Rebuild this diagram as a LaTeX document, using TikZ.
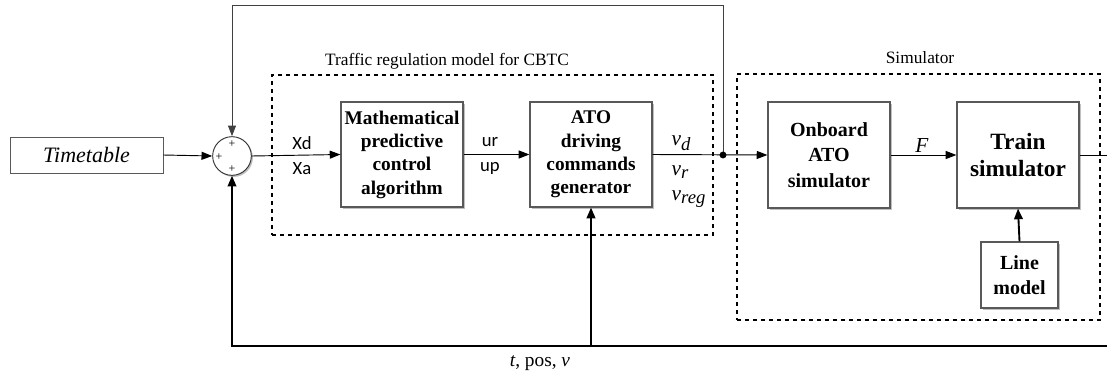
\documentclass[tikz,border=0pt]{standalone}
\usepackage{fontspec}
\setmainfont{Liberation Serif}
\newfontfamily\calfont{Carlito}
\usetikzlibrary{arrows.meta,shadows}
\begin{document}
\begin{tikzpicture}[x=0.75pt,y=-0.75pt,
  shd/.style={drop shadow={shadow xshift=1.2pt,shadow yshift=-1.2pt,opacity=0.25,fill=black}},
  blk/.style={draw=black!65,line width=0.9pt,fill=white,shd,align=center,font=\fontsize{14.5}{17.5}\selectfont\bfseries,inner sep=0pt},
  grp/.style={draw,dashed,line width=0.8pt,inner sep=0pt},
  sig/.style={line width=0.7pt,-{Triangle[length=8pt,width=6pt]}},
  thk/.style={line width=1.4pt,-{Triangle[length=8pt,width=6.5pt]}},
  lbl/.style={font=\fontsize{13}{15}\selectfont},
  cal/.style={font=\calfont\fontsize{14}{16}\selectfont},
  mth/.style={font=\fontsize{16}{18}\selectfont\itshape}]
\useasboundingbox (0,0) rectangle (1107,375);
% groups
\node[grp,minimum width=330.75pt,minimum height=120pt] (trm) at (492.5,155) {};
\node[grp,minimum width=272.25pt,minimum height=184.5pt] (sim) at (918.5,197) {};
\node[lbl,anchor=base] (trmt) at (447,65) {Traffic regulation model for CBTC};
\node[lbl,anchor=base] (simt) at (920,63) {Simulator};
% blocks
\node[draw=black!65,line width=0.7pt,minimum width=114.75pt,minimum height=27pt,inner sep=0pt,font=\fontsize{16.5}{18}\selectfont\itshape] (tt) at (86.5,155) {Timetable};
\node[draw=black!80,circle,fill=white,shd,line width=0.7pt,minimum size=29pt,inner sep=0pt] (sum) at (232,156) {};
\node[font=\fontsize{9}{9}\selectfont] (p1) at (232,144) {+};
\node[font=\fontsize{9}{9}\selectfont] (p2) at (219,157) {+};
\node[font=\fontsize{9}{9}\selectfont] (p3) at (232,169) {+};
\node[blk,minimum width=91.5pt,minimum height=78.75pt] (mpc) at (402,154.5) {Mathematical\\predictive\\control\\algorithm};
\node[blk,minimum width=91.5pt,minimum height=78.75pt] (ato) at (591,154.5) {ATO\\driving\\commands\\generator};
\node[blk,minimum width=91.5pt,minimum height=79.5pt,font=\fontsize{15}{19}\selectfont\bfseries] (obd) at (829,155) {Onboard\\ATO\\simulator};
\node[blk,minimum width=91.5pt,minimum height=79.5pt,font=\fontsize{17.5}{20.5}\selectfont\bfseries] (trn) at (1018,155) {Train\\simulator};
\node[blk,minimum width=57.75pt,minimum height=49.5pt,font=\fontsize{15}{19}\selectfont\bfseries] (lin) at (1019.5,275) {Line\\model};
% coordinates
\coordinate (jn) at (723,155);
\coordinate (topL) at (232,5);
\coordinate (topR) at (723,5);
\coordinate (outR) at (1107,155);
\coordinate (botR) at (1107,346);
\coordinate (botL) at (232,346);
\coordinate (botA) at (591,346);
% connectors
\draw[sig] (tt.east) -- (sum.west);
\draw[sig] (sum.east) -- (mpc.west);
\draw[sig] (mpc.east) -- (ato.west);
\draw[sig] (ato.east) -- (obd.west);
\draw[sig] (obd.east) -- (trn.west);
\draw[line width=0.7pt] (trn.east) -- (outR);
\draw[sig,draw=black!75] (jn) -- (topR) -- (topL) -- (sum.north);
\fill (jn) circle (2.6pt);
\draw[thk] (botR) -- (botL) -- (sum.south);
\draw[thk] (botA) -- (ato.south);
\draw[thk] (lin.north) -- (trn.south);
% labels
\node[cal] (xd) at (302,143) {Xd};
\node[cal] (xa) at (302,169) {Xa};
\node[cal] (ur) at (490,142) {ur};
\node[cal] (up) at (490,168) {up};
\node[mth,anchor=west] (vd) at (667,143) {v\textsubscript{\itshape\fontsize{14}{16}\selectfont d}};
\node[mth,anchor=west] (vr) at (667,172) {v\textsubscript{\itshape\fontsize{14}{16}\selectfont r}};
\node[mth,anchor=west] (vreg) at (667,199) {v\textsubscript{\itshape\fontsize{14}{16}\selectfont reg}};
\node[mth] (fl) at (922,146) {F};
\node[font=\fontsize{14.5}{16}\selectfont] (tpv) at (540,363) {\textit{t}, pos, \textit{v}};
\end{tikzpicture}
\end{document}
